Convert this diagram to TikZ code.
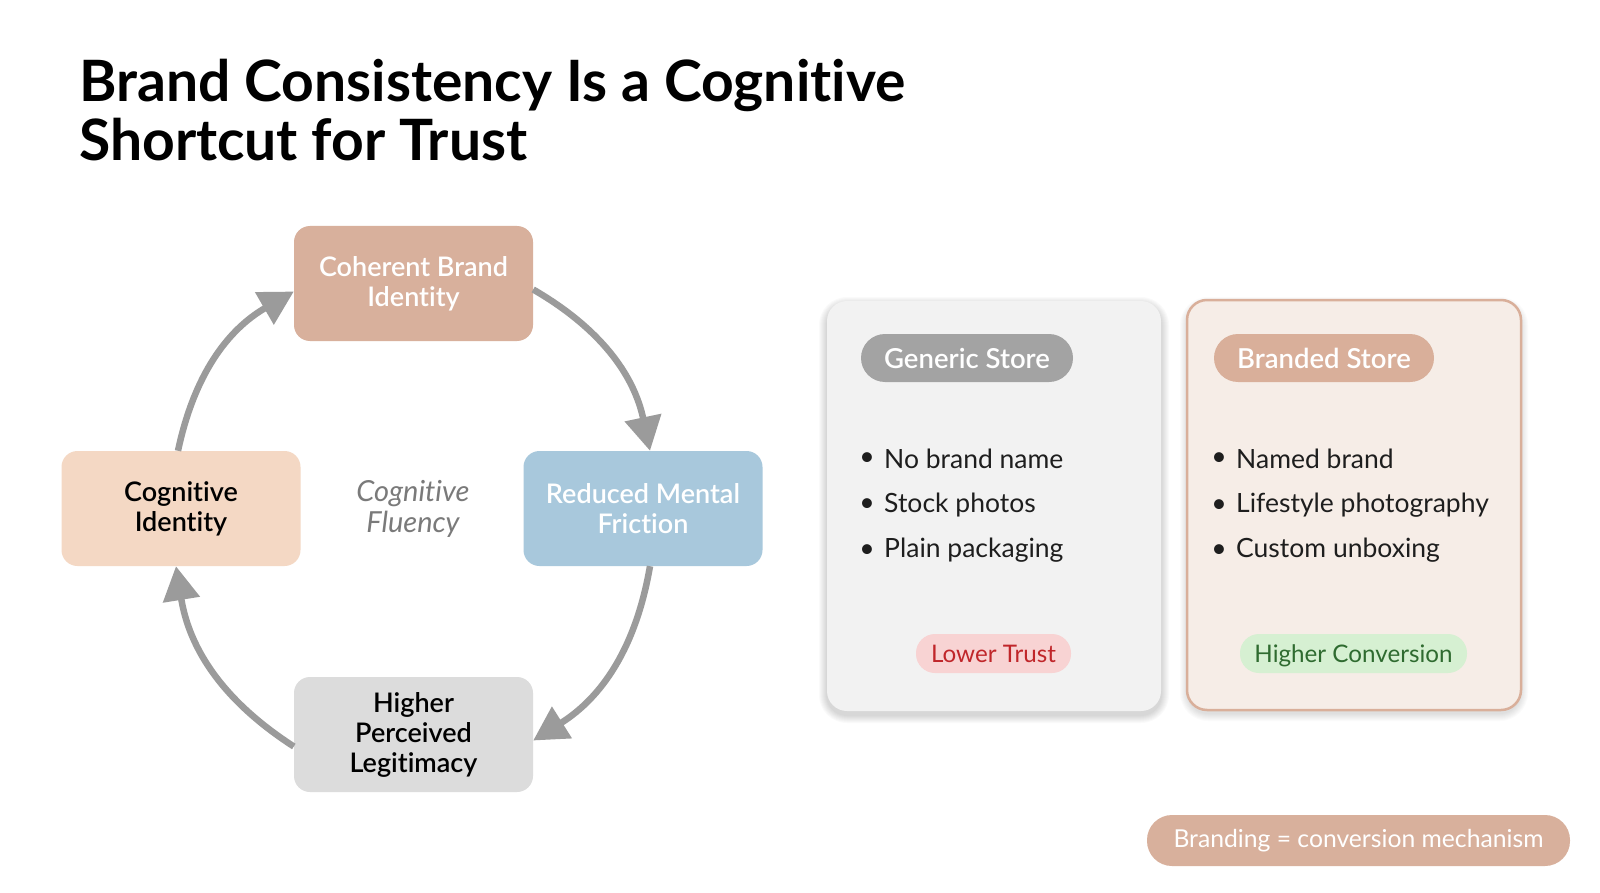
\documentclass[tikz,border=0pt]{standalone}
\usepackage{fontspec}
\setmainfont{Lato}[Ligatures=NoCommon]
\IfFontExistsTF{Lato Semibold}{\newfontfamily\semib{Lato Semibold}[Ligatures=NoCommon]}{\newcommand\semib{\bfseries}}
\usetikzlibrary{arrows.meta}
\definecolor{cbiF}{HTML}{D8B09C}
\definecolor{ciF}{HTML}{F4D8C4}
\definecolor{rmfF}{HTML}{A8C8DC}
\definecolor{hplF}{HTML}{DCDCDC}
\definecolor{arrowgray}{HTML}{9B9B9B}
\definecolor{genF}{HTML}{F2F2F2}
\definecolor{brF}{HTML}{F6EDE7}
\definecolor{brD}{HTML}{D9AF9A}
\definecolor{genP}{HTML}{A3A3A3}
\definecolor{lowF}{HTML}{F8D3D3}
\definecolor{lowT}{HTML}{C0262A}
\definecolor{hiF}{HTML}{D6F0D2}
\definecolor{hiT}{HTML}{2F6B30}
\definecolor{flu}{HTML}{7A7A7A}
\definecolor{txt}{HTML}{1E1E1E}
\tikzset{
  cyc/.style={rounded corners=16pt, minimum width=239pt, minimum height=115pt, align=center, inner sep=0pt, font=\semib\fontsize{27}{30}\selectfont},
  arr/.style={draw=arrowgray, line width=6.5pt, -{Triangle[length=34pt,width=36pt]}},
  card/.style={rounded corners=20pt, minimum width=334pt, minimum height=410pt, inner sep=0pt},
  pill/.style={rounded corners=24pt, minimum height=48pt, inner sep=0pt, font=\semib\fontsize{27.5}{30}\selectfont, text=white},
  small pill/.style={rounded corners=19pt, minimum height=39pt, inner sep=0pt, font=\fontsize{24.2}{28}\selectfont},
  bul/.style={anchor=base west, inner sep=0pt, font=\fontsize{26.5}{30}\selectfont, text=txt},
  dot/.style={anchor=east, inner sep=0pt, font=\fontsize{26.5}{30}\selectfont, text=txt},
}
\begin{document}
\begin{tikzpicture}[x=1pt,y=-1pt]
\useasboundingbox[fill=white] (0,0) rectangle (1600,893);
% title
\node[anchor=base west, inner sep=0pt, font=\bfseries\fontsize{57}{59}\selectfont] (t1) at (79,102) {Brand Consistency Is a Cognitive};
\node[anchor=base west, inner sep=0pt, font=\bfseries\fontsize{57}{59}\selectfont] (t2) at (79,161) {Shortcut for Trust};
% cycle
\node[cyc, fill=cbiF, text=white] (cbi) at (413.5,283.5) {Coherent Brand\\Identity};
\node[cyc, fill=ciF, text=black] (ci) at (181,508.5) {Cognitive\\Identity};
\node[cyc, fill=rmfF, text=white] (rmf) at (643,508.5) {Reduced Mental\\Friction};
\node[cyc, fill=hplF, text=black] (hpl) at (413.5,734.5) {Higher\\Perceived\\Legitimacy};
\node[align=center, inner sep=0pt, text=flu, font=\itshape\fontsize{29}{31}\selectfont] (flu) at (413,509) {Cognitive\\Fluency};
\draw[arr] ([yshift=-6pt]cbi.east) to[bend left=24] ([xshift=7pt]rmf.north);
\draw[arr] ([xshift=7pt]rmf.south) to[bend left=24] ([yshift=-6pt]hpl.east);
\draw[arr] ([yshift=-12pt]hpl.west) to[bend left=24] ([xshift=-5pt]ci.south);
\draw[arr] ([xshift=-3pt]ci.north) to[bend left=24] ([yshift=-8pt]cbi.west);
% soft shadows
\foreach \i in {1,...,8} {
  \fill[black, opacity=0.018, rounded corners=20pt+\i pt] (827-\i,305-\i) rectangle (1161+\i,715+\i);
  \fill[black, opacity=0.014, rounded corners=20pt+\i pt] (1188-\i,305-\i) rectangle (1520+\i,713+\i);
}
% cards
\node[card, fill=genF] (gen) at (994,506) {};
\node[card, fill=brF, draw=brD, line width=2.5pt] (br) at (1354,505) {};
\node[pill, fill=genP, minimum width=212pt] (gp) at (967,358) {Generic Store};
\node[pill, fill=brD, minimum width=220pt] (bp) at (1324,358) {Branded Store};
\node[bul] (g1) at (884,468) {No brand name};
\node[bul] (g2) at (884,512) {Stock photos};
\node[bul] (g3) at (884,557) {Plain packaging};
\foreach \n in {g1,g2,g3} \node[dot] at ([xshift=-9pt,yshift=-1pt]\n.west) {•};
\node[bul] (b1) at (1236,468) {Named brand};
\node[bul] (b2) at (1236,512) {Lifestyle photography};
\node[bul] (b3) at (1236,557) {Custom unboxing};
\foreach \n in {b1,b2,b3} \node[dot] at ([xshift=-9pt,yshift=-1pt]\n.west) {•};
\node[small pill, fill=lowF, text=lowT, minimum width=155pt] (lt) at (993.5,653.5) {Lower Trust};
\node[small pill, fill=hiF, minimum width=227pt] (hc) at (1353.5,653.5) {};
\node[anchor=base, inner sep=0pt, text=hiT, font=\fontsize{24.2}{28}\selectfont] (hct) at (1353.5,662) {Higher Conversion};
\node[pill, fill=cbiF, minimum width=423pt, minimum height=51pt, rounded corners=25pt, font=\fontsize{24.7}{29}\selectfont] (bm) at (1358.5,840.5) {Branding = conversion mechanism};
\end{tikzpicture}
\end{document}
